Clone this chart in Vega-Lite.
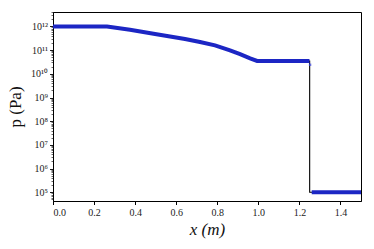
{
  "$schema": "https://vega.github.io/schema/vega-lite/v6.json",
  "width": 308,
  "height": 189,
  "autosize": {"type": "none"},
  "padding": {"left": 53, "top": 12, "right": 13, "bottom": 48},
  "background": "white",
  "config": {
    "view": {"stroke": "black", "strokeWidth": 1},
    "font": "Liberation Serif",
    "axis": {
      "domainColor": "black",
      "tickColor": "black",
      "labelColor": "#222",
      "titleColor": "#111",
      "labelFont": "Liberation Serif",
      "titleFont": "Liberation Serif",
      "labelFontSize": 10,
      "titleFontSize": 17,
      "titleFontWeight": "normal",
      "grid": false
    }
  },
  "datasets": {
    "exact": [
      {"x": 0.0, "p": 1e12},
      {"x": 0.263, "p": 1e12},
      {"x": 0.375, "p": 7.26e11},
      {"x": 0.497, "p": 4.78e11},
      {"x": 0.570, "p": 3.78e11},
      {"x": 0.643, "p": 2.94e11},
      {"x": 0.716, "p": 2.20e11},
      {"x": 0.789, "p": 1.58e11},
      {"x": 0.862, "p": 9.71e10},
      {"x": 0.911, "p": 6.71e10},
      {"x": 0.960, "p": 4.47e10},
      {"x": 0.994, "p": 3.47e10},
      {"x": 1.25, "p": 3.47e10},
      {"x": 1.25, "p": 1e5},
      {"x": 1.5, "p": 1e5}
    ],
    "num": [
      {"x": 0.0, "p": 1e12, "seg": "a"},
      {"x": 0.263, "p": 1e12, "seg": "a"},
      {"x": 0.375, "p": 7.26e11, "seg": "a"},
      {"x": 0.497, "p": 4.78e11, "seg": "a"},
      {"x": 0.570, "p": 3.78e11, "seg": "a"},
      {"x": 0.643, "p": 2.94e11, "seg": "a"},
      {"x": 0.716, "p": 2.20e11, "seg": "a"},
      {"x": 0.789, "p": 1.58e11, "seg": "a"},
      {"x": 0.862, "p": 9.71e10, "seg": "a"},
      {"x": 0.911, "p": 6.71e10, "seg": "a"},
      {"x": 0.960, "p": 4.47e10, "seg": "a"},
      {"x": 0.994, "p": 3.47e10, "seg": "a"},
      {"x": 1.249, "p": 3.47e10, "seg": "a"},
      {"x": 1.26, "p": 1e5, "seg": "b"},
      {"x": 1.5, "p": 1e5, "seg": "b"}
    ],
    "blip": [
      {"x": 1.252, "p": 2.4e10}
    ]
  },
  "encoding": {
    "x": {
      "field": "x",
      "type": "quantitative",
      "scale": {"domain": [0, 1.5], "nice": false, "zero": false},
      "axis": {
        "title": "x (m)",
        "titleFontStyle": "italic",
        "values": [0, 0.2, 0.4, 0.6, 0.8, 1.0, 1.2, 1.4],
        "format": ".1f",
        "tickSize": 3.5,
        "labelPadding": 3,
        "titlePadding": 4
      }
    },
    "y": {
      "field": "p",
      "type": "quantitative",
      "scale": {"type": "log", "domain": [4.3e4, 4.05e12], "nice": false},
      "axis": {
        "title": "p (Pa)",
        "values": [5e4, 6e4, 7e4, 8e4, 9e4, 1e5, 2e5, 3e5, 4e5, 5e5, 6e5, 7e5, 8e5, 9e5, 1e6, 2e6, 3e6, 4e6, 5e6, 6e6, 7e6, 8e6, 9e6, 1e7, 2e7, 3e7, 4e7, 5e7, 6e7, 7e7, 8e7, 9e7, 1e8, 2e8, 3e8, 4e8, 5e8, 6e8, 7e8, 8e8, 9e8, 1e9, 2e9, 3e9, 4e9, 5e9, 6e9, 7e9, 8e9, 9e9, 1e10, 2e10, 3e10, 4e10, 5e10, 6e10, 7e10, 8e10, 9e10, 1e11, 2e11, 3e11, 4e11, 5e11, 6e11, 7e11, 8e11, 9e11, 1e12, 2e12, 3e12, 4e12],
        "labelExpr": "abs(log(datum.value)/LN10 - round(log(datum.value)/LN10)) > 0.001 ? '' : ['10⁰','10¹','10²','10³','10⁴','10⁵','10⁶','10⁷','10⁸','10⁹','10¹⁰','10¹¹','10¹²'][round(log(datum.value)/LN10)]",
        "tickSize": {"condition": {"test": "abs(log(datum.value)/LN10 - round(log(datum.value)/LN10)) < 0.001", "value": 3.5}, "value": 2},
        "tickWidth": {"condition": {"test": "abs(log(datum.value)/LN10 - round(log(datum.value)/LN10)) < 0.001", "value": 0.9}, "value": 0.6},
        "labelPadding": 2,
        "labelOverlap": false,
        "titlePadding": 6
      }
    }
  },
  "layer": [
    {
      "data": {"name": "exact"},
      "mark": {"type": "line", "color": "black", "strokeWidth": 1.1}
    },
    {
      "data": {"name": "num"},
      "mark": {"type": "line", "color": "#1c26c4", "strokeWidth": 4},
      "encoding": {"detail": {"field": "seg", "type": "nominal"}}
    },
    {
      "data": {"name": "blip"},
      "mark": {"type": "point", "shape": "square", "color": "#3a44e0", "filled": true, "size": 6}
    }
  ]
}
